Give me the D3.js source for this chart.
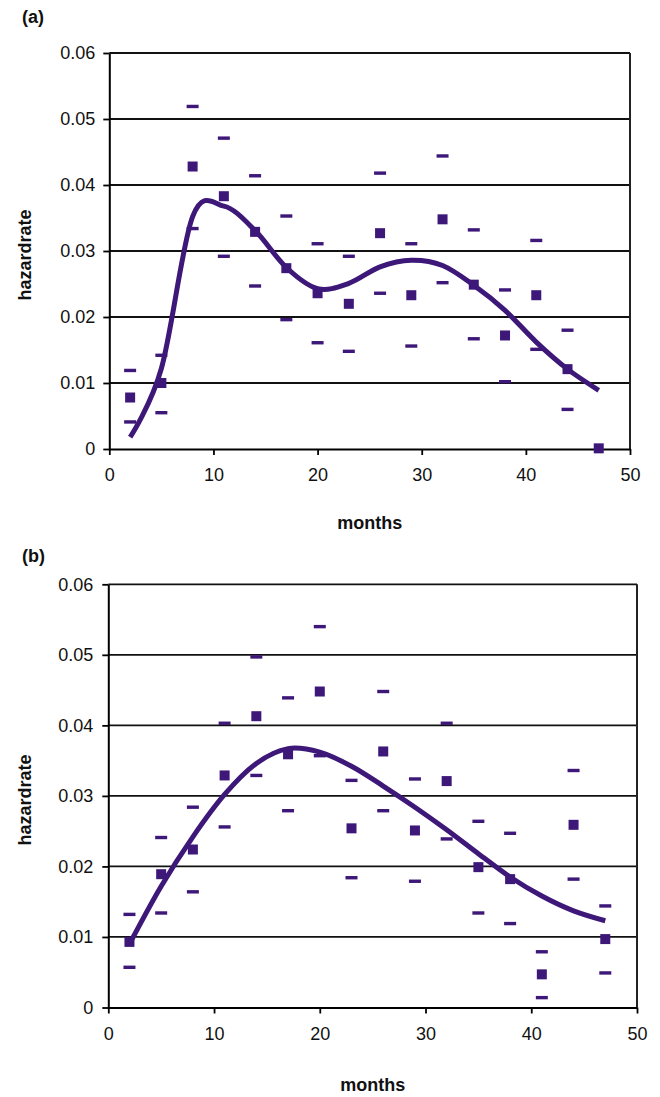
<!DOCTYPE html>
<html>
<head>
<meta charset="utf-8">
<script src="https://cdn.jsdelivr.net/npm/d3@7"></script>
<style>
  body { margin: 0; background: #fff; }
  svg { display: block; font-family: Arial, "Liberation Sans", sans-serif; }
  .tick text { font-size: 18px; fill: #111; }
  .title { font-size: 18px; font-weight: bold; fill: #111; }
</style>
</head>
<body>
<svg id="chart" width="660" height="1097"></svg>
<script>
// months at which the hazard rate was estimated
const months = [2, 5, 8, 11, 14, 17, 20, 23, 26, 29, 32, 35, 38, 41, 44, 47];

// panel (a)
const a_rate  = [0.0078, 0.0100, 0.0428, 0.0383, 0.0329, 0.0274, 0.0236, 0.0220, 0.0327, 0.0233, 0.0348, 0.0249, 0.0172, 0.0233, 0.0121, 0.0001];
const a_upper = [0.0119, 0.0142, 0.0519, 0.0471, 0.0414, 0.0353, 0.0311, 0.0292, 0.0418, 0.0311, 0.0444, 0.0332, 0.0241, 0.0316, 0.0180, null];
const a_lower = [0.0041, 0.0055, 0.0334, 0.0292, 0.0247, 0.0196, 0.0161, 0.0148, 0.0236, 0.0156, 0.0252, 0.0167, 0.0102, 0.0151, 0.0060, null];
const a_fit   = [0.0018, 0.0122, 0.0352, 0.0368, 0.0331, 0.0275, 0.0243, 0.0251, 0.0276, 0.0286, 0.0278, 0.0248, 0.0210, 0.0162, 0.0121, 0.0089];

// panel (b)
const b_rate  = [0.0093, 0.0189, 0.0224, 0.0329, 0.0413, 0.0359, 0.0448, 0.0254, 0.0363, 0.0251, 0.0321, 0.0199, 0.0182, 0.0047, 0.0259, 0.0097];
const b_upper = [0.0132, 0.0241, 0.0284, 0.0403, 0.0497, 0.0439, 0.0540, 0.0322, 0.0448, 0.0324, 0.0403, 0.0264, 0.0247, 0.0079, 0.0336, 0.0144];
const b_lower = [0.0057, 0.0134, 0.0164, 0.0256, 0.0329, 0.0279, 0.0357, 0.0184, 0.0279, 0.0179, 0.0239, 0.0134, 0.0119, 0.0014, 0.0182, 0.0049];
const b_fit   = [0.0090, 0.0172, 0.0242, 0.0302, 0.0346, 0.0367, 0.0362, 0.0342, 0.0314, 0.0284, 0.0252, 0.0218, 0.0185, 0.0158, 0.0137, 0.0123];

const y_ticks = [0, 0.01, 0.02, 0.03, 0.04, 0.05, 0.06];
const x_ticks = [0, 10, 20, 30, 40, 50];

const color = "#3d1879";
const svg = d3.select("#chart");

function draw_panel(p) {
    const x = d3.scaleLinear().domain([0, 50]).range([p.left, p.right]);
    const y = d3.scaleLinear().domain([0, 0.06]).range([p.bottom, p.top]);
    const g = svg.append("g");

    // gridlines
    g.selectAll("line.grid")
        .data(y_ticks.slice(1))
        .enter()
        .append("line")
        .attr("class", "grid")
        .attr("x1", p.left).attr("x2", p.right)
        .attr("y1", d => y(d)).attr("y2", d => y(d))
        .attr("stroke", "#111").attr("stroke-width", 1.8);

    // right border of plot area
    g.append("line")
        .attr("x1", p.right).attr("x2", p.right)
        .attr("y1", p.top).attr("y2", p.bottom)
        .attr("stroke", "#222").attr("stroke-width", 2);

    const y_axis = g.append("g")
        .attr("transform", "translate(" + p.left + ",0)")
        .call(d3.axisLeft(y).tickValues(y_ticks).tickSize(6).tickSizeOuter(0).tickPadding(p.ypad)
            .tickFormat(d => d === 0 ? "0" : d3.format(".2f")(d)));

    const x_axis = g.append("g")
        .attr("transform", "translate(0," + p.bottom + ")")
        .call(d3.axisBottom(x).tickValues(x_ticks).tickSize(6).tickSizeOuter(0).tickPadding(p.xpad));

    [y_axis, x_axis].forEach(ax => {
        ax.select(".domain").attr("stroke", "#000").attr("stroke-width", 2);
        ax.selectAll(".tick line").attr("stroke", "#000").attr("stroke-width", 1.8);
        ax.selectAll(".tick text").attr("font-family", null).attr("font-size", null);
    });

    // confidence bounds as short dashes
    const bounds = [];
    months.forEach((m, i) => {
        if (p.upper[i] != null) bounds.push({ m: m, v: p.upper[i] });
        if (p.lower[i] != null) bounds.push({ m: m, v: p.lower[i] });
    });
    g.selectAll("rect.bound")
        .data(bounds)
        .enter()
        .append("rect")
        .attr("class", "bound")
        .attr("x", d => x(d.m) - 6)
        .attr("y", d => y(d.v) - 1.7)
        .attr("width", 12)
        .attr("height", 3.4)
        .attr("fill", color);

    // estimated rates
    g.selectAll("rect.rate")
        .data(months.map((m, i) => ({ m: m, v: p.rate[i] })))
        .enter()
        .append("rect")
        .attr("class", "rate")
        .attr("x", d => x(d.m) - 5)
        .attr("y", d => y(d.v) - 5)
        .attr("width", 10)
        .attr("height", 10)
        .attr("fill", color);

    // smoothed fit
    const line = d3.line()
        .x((d, i) => x(months[i]))
        .y(d => y(d))
        .curve(d3.curveCardinal.tension(0));
    g.append("path")
        .datum(p.fit)
        .attr("d", line)
        .attr("fill", "none")
        .attr("stroke", color)
        .attr("stroke-width", 5)
        .attr("stroke-linejoin", "round");

    // titles
    g.append("text").attr("class", "title")
        .attr("x", 22).attr("y", p.label_y)
        .text(p.label);
    g.append("text").attr("class", "title")
        .attr("text-anchor", "middle")
        .attr("transform", "translate(31," + ((p.top + p.bottom) / 2 + 4) + ") rotate(-90)")
        .text("hazardrate");
    g.append("text").attr("class", "title")
        .attr("text-anchor", "middle")
        .attr("x", (p.left + p.right) / 2).attr("y", p.months_y)
        .text("months");
}

draw_panel({
    left: 109.3, right: 630, top: 53, bottom: 449,
    ypad: 8, xpad: 13,
    rate: a_rate, upper: a_upper, lower: a_lower, fit: a_fit,
    label: "(a)", label_y: 23, months_y: 529
});

draw_panel({
    left: 108.3, right: 637, top: 584.3, bottom: 1007.5,
    ypad: 9, xpad: 14,
    rate: b_rate, upper: b_upper, lower: b_lower, fit: b_fit,
    label: "(b)", label_y: 562, months_y: 1091
});
</script>
</body>
</html>
